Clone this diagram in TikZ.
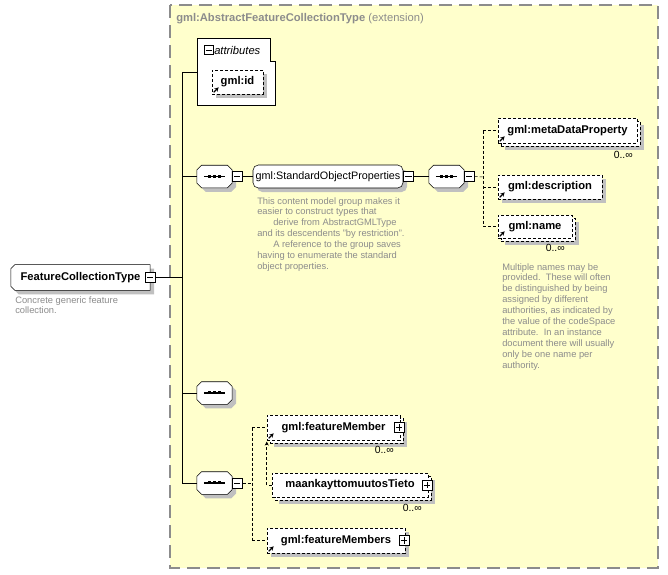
\documentclass[tikz,border=0pt]{standalone}
\usepackage{fontspec}
\setmainfont{Liberation Sans}
\usetikzlibrary{arrows.meta, positioning}

\definecolor{xsdyellow}{HTML}{FFFFCC}
\definecolor{xsdgray}{HTML}{8C8C8C}
\definecolor{notegray}{HTML}{8C8C8C}
\definecolor{shadowgray}{HTML}{C0C0C0}

\newcommand{\elemfont}{\fontsize{8.4}{10}\selectfont\bfseries}
\newcommand{\groupfont}{\fontsize{8.1}{10}\selectfont}
\newcommand{\notefont}{\fontsize{7}{8.2}\selectfont}
\newcommand{\cardfont}{\fontsize{7.8}{9}\selectfont}

% octagon round a node, #2 = size of the cut corners
\newcommand{\octpath}[2]{([xshift=#2]#1.north west) -- ([xshift=-#2]#1.north east) -- ([yshift=-#2]#1.north east)
  -- ([yshift=#2]#1.south east) -- ([xshift=-#2]#1.south east) -- ([xshift=#2]#1.south west)
  -- ([yshift=#2]#1.south west) -- ([yshift=-#2]#1.north west) -- cycle}
% box with the two left corners cut
\newcommand{\leftcutpath}[2]{([xshift=#2]#1.north west) -- (#1.north east) -- (#1.south east)
  -- ([xshift=#2]#1.south west) -- ([yshift=#2]#1.south west) -- ([yshift=-#2]#1.north west) -- cycle}

\pgfdeclarelayer{back}
\pgfdeclarelayer{shapes}
\pgfsetlayers{back,shapes,main}

\begin{document}
\begin{tikzpicture}[
    x=0.75pt, y=-0.75pt, line width=0.75pt,
    xsddash/.style={dash pattern=on 2.25pt off 1.5pt},
    shadowed/.style={preaction={fill=shadowgray, draw=none, transform canvas={xshift=3pt, yshift=-3pt}}},
    multi/.style={preaction={fill=shadowgray, draw=none, transform canvas={xshift=5.25pt, yshift=-5.25pt}},
                  preaction={fill=white, draw=black, xsddash, transform canvas={xshift=2.25pt, yshift=-2.25pt}}},
    elem/.style={rectangle, draw, fill=white, inner sep=0pt, font=\elemfont},
    optelem/.style={elem, xsddash},
    seq/.style={rectangle, inner sep=0pt, minimum width=26pt, minimum height=16.5pt},
    minusbox/.style={rectangle, draw, fill=white, inner sep=0pt, minimum size=7.5pt,
                path picture={\draw ([xshift=-2.3pt]path picture bounding box.center) -- ([xshift=2.3pt]path picture bounding box.center);}},
    plusbox/.style={rectangle, draw, fill=white, inner sep=0pt, minimum size=7.5pt,
                path picture={\draw ([xshift=-2.3pt]path picture bounding box.center) -- ([xshift=2.3pt]path picture bounding box.center);
                              \draw ([yshift=-2.3pt]path picture bounding box.center) -- ([yshift=2.3pt]path picture bounding box.center);}},
    note/.style={anchor=north west, align=left, text=notegray, font=\notefont, inner sep=0pt},
    card/.style={anchor=north east, font=\cardfont, inner sep=0pt},
    refmark/.style={-{Stealth[length=3.2pt, width=3.2pt]}, line width=0.9pt}
]

% Page and extension area
\begin{pgfonlayer}{back}
\fill[white] (0,0) rectangle (668,575);
\draw[fill=xsdyellow, draw=xsdgray, line width=1.3pt, dash pattern=on 10pt off 5pt] (170,5) rectangle (658,568);
\end{pgfonlayer}
\useasboundingbox (0,0) rectangle (668,575);
\node[anchor=west, inner sep=0pt, text=xsdgray, font=\fontsize{8.4}{10}\selectfont] (base) at (176,19)
    {\textbf{gml:AbstractFeatureCollectionType} (extension)};

% Root element
\node[rectangle, inner sep=0pt, font=\elemfont, minimum width=104pt, minimum height=19pt] (fct) at (80.5,277.5) {FeatureCollectionType};
\node[minusbox] (fctm) at (fct.east) {};
\node[note] (fctnote) at (15,296) {Concrete generic feature\\collection.};

% Attributes
\draw[fill=white] (197,38) -- (270,38) -- (270,61) -- (275,61) -- (275,105) -- (197,105) -- cycle;
\node[minusbox, minimum size=6.5pt] (attrm) at (209,50) {};
\node[anchor=west, inner sep=0pt, font=\fontsize{8.4}{10}\selectfont\itshape] (attr) at (214,50) {attributes};
\coordinate (attrin) at (197,72);
\node[optelem, minimum width=38.25pt, minimum height=18pt, shadowed] (idn) at (237.5,82) {gml:id};

% Main sequence trunk
\coordinate (trunktop) at (182,72);
\coordinate (trunkbot) at (182,483);

% Standard object properties
\node[seq] (seqA) at (214.5,176.5) {};
\node[minusbox, anchor=west] (seqAm) at (seqA.east) {};
\node[elem, font=\groupfont, rounded corners=4pt, minimum width=112.5pt, minimum height=17.25pt, shadowed] (sop) at (328,176.5) {gml:StandardObjectProperties};
\node[minusbox, anchor=west] (sopm) at (sop.east) {};
\node[seq] (seqB) at (446.5,176.5) {};
\node[minusbox, anchor=west] (seqBm) at (seqB.east) {};
\node[note] (sopnote) at (257,197) {This content model group makes it\\easier to construct types that\\\hspace*{12pt}derive from AbstractGMLType\\and its descendents "by restriction".\\\hspace*{12pt}A reference to the group saves\\having to enumerate the standard\\object properties.};

\coordinate (rtrunk) at (483,177);
\node[optelem, minimum width=104.25pt, minimum height=18.75pt, multi] (mdp) at (567.5,130.5) {gml:metaDataProperty};
\node[card] (mdpcard) at (633,151) {0..∞};
\node[optelem, minimum width=78pt, minimum height=18pt, shadowed] (desc) at (550,187) {gml:description};
\node[optelem, minimum width=55.5pt, minimum height=17.25pt, multi] (gname) at (535,226.5) {gml:name};
\node[card] (gnamecard) at (565,244) {0..∞};
\node[note] (gnamenote) at (502,263) {Multiple names may be\\provided.\ \ These will often\\be distinguished by being\\assigned by different\\authorities, as indicated by\\the value of the codeSpace\\attribute.\ \ In an instance\\document there will usually\\only be one name per\\authority.};

% Empty sequence
\node[seq] (seqC) at (214.5,393) {};

% Feature members
\node[seq] (seqD) at (214.5,483) {};
\node[minusbox, anchor=west] (seqDm) at (seqD.east) {};
\coordinate (btrunk) at (252,483);
\node[optelem, minimum width=99.75pt, minimum height=18.75pt, multi] (fm) at (333.5,427.5) {gml:featureMember\hspace{8pt}};
\node[plusbox] (fmp) at ([xshift=-1pt]fm.east) {};
\node[card] (fmcard) at (394,446) {0..∞};
\node[optelem, minimum width=117pt, minimum height=18pt, multi] (mkt) at (350,485) {maankayttomuutosTieto\hspace{8pt}};
\node[plusbox] (mktp) at ([xshift=-1pt]mkt.east) {};
\node[card] (mktcard) at (422,504) {0..∞};
\node[optelem, minimum width=103.5pt, minimum height=18.75pt, shadowed] (fms) at (336,540.5) {gml:featureMembers\hspace{8pt}};
\node[plusbox] (fmsp) at ([xshift=-1pt]fms.east) {};

% Outlines of the root element and of the sequences
\begin{pgfonlayer}{shapes}
\fill[shadowgray, transform canvas={xshift=3pt, yshift=-3pt}] \leftcutpath{fct}{3pt};
\filldraw[fill=white] \leftcutpath{fct}{3pt};
\foreach \s in {seqA, seqB, seqC, seqD} {
  \fill[shadowgray, transform canvas={xshift=3pt, yshift=-3pt}] \octpath{\s}{3.5pt};
  \filldraw[fill=white] \octpath{\s}{3.5pt};
  \draw[line width=1.2pt] ([xshift=-8pt]\s.center) -- ([xshift=8pt]\s.center);
  \foreach \dx in {-3.6pt,0pt,3.6pt}
    \fill ([xshift=\dx-1.1pt, yshift=-1.1pt]\s.center) rectangle ++(3,-3);
}
\end{pgfonlayer}

% Reference marks
\foreach \r in {idn, mdp, desc, gname, fm, fms}
  \draw[refmark] ([shift={(2,-2)}]\r.south west) -- ++(5,-5);

% Connections
\draw (trunktop) -- (trunkbot);
\draw (fctm.east) -- (fctm.east -| trunktop);
\draw (attrin -| trunktop) -- (attrin);
\draw (seqA.west -| trunktop) -- (seqA.west);
\draw (seqC.west -| trunktop) -- (seqC.west);
\draw (seqD.west -| trunktop) -- (seqD.west);
\draw (seqAm.east) -- (sop.west);
\draw (sopm.east) -- (seqB.west);
\draw[xsddash] (seqBm.east) -- (rtrunk);
\draw[xsddash] (mdp.west -| rtrunk) -- (gname.west -| rtrunk);
\foreach \c in {mdp, desc, gname}
  \draw[xsddash] (\c.west -| rtrunk) -- (\c.west);
\draw[xsddash] (seqDm.east) -- (btrunk);
\draw[xsddash] (fm.west -| btrunk) -- (fms.west -| btrunk);
\foreach \c in {fm, fms}
  \draw[xsddash] (\c.west -| btrunk) -- (\c.west);
\draw[xsddash, -{Stealth[length=3pt, width=3pt]}, shorten >=1pt] (mkt.west) -| (fm.south west);

\end{tikzpicture}
\end{document}
